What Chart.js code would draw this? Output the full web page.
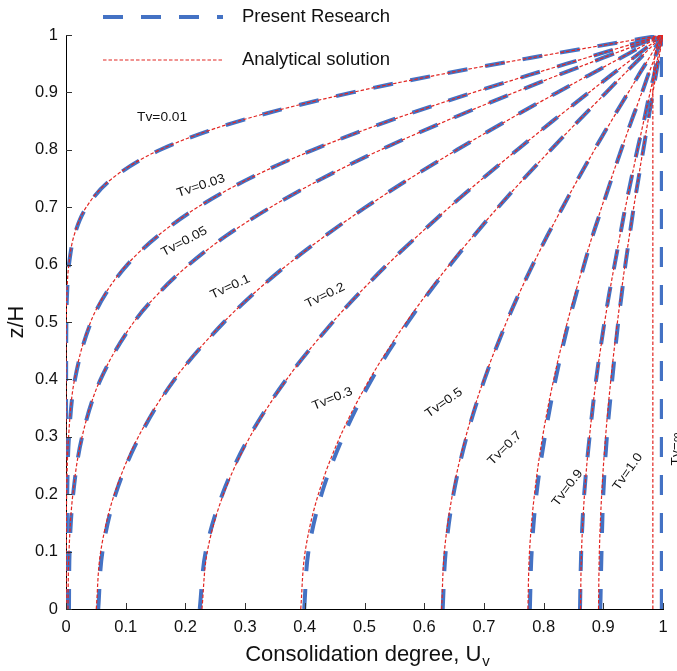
<!DOCTYPE html>
<html>
<head>
<meta charset="utf-8">
<script src="https://cdn.jsdelivr.net/npm/chart.js@4.4.0/dist/chart.umd.min.js"></script>
<style>
  html, body { margin: 0; padding: 0; background: #fff; }
</style>
</head>
<body>
<canvas id="myChart" width="677" height="671"></canvas>
<script>
// Niveles z/H (eje vertical) comunes a todas las curvas
const zH = [0, 0.1, 0.2, 0.3, 0.4, 0.5, 0.55, 0.6, 0.65, 0.7, 0.75, 0.8, 0.85, 0.9, 0.93, 0.96, 0.98, 1];

// Ticks de los ejes
const xTicks = [0, 0.1, 0.2, 0.3, 0.4, 0.5, 0.6, 0.7, 0.8, 0.9, 1];
const yTicks = [0, 0.1, 0.2, 0.3, 0.4, 0.5, 0.6, 0.7, 0.8, 0.9, 1];

// Valores de Tv de cada isocrona
const tvLabels = ["0.01", "0.03", "0.05", "0.1", "0.2", "0.3", "0.5", "0.7", "0.9", "1.0", "∞"];

// Analytical solution (U para cada nivel de zH)
const ana001 = [0, 0, 0, 0, 0, 0.0004, 0.0015, 0.0047, 0.0133, 0.0339, 0.0771, 0.1573, 0.2889, 0.4795, 0.6206, 0.7773, 0.8875, 1];
const ana003 = [0, 0.0002, 0.0011, 0.0043, 0.0143, 0.0412, 0.0661, 0.1022, 0.1535, 0.2207, 0.3073, 0.4145, 0.5403, 0.6829, 0.7752, 0.8708, 0.935, 1];
const ana005 = [0.0032, 0.005, 0.0115, 0.0269, 0.0576, 0.1137, 0.1551, 0.2062, 0.2683, 0.3429, 0.4294, 0.5273, 0.6358, 0.7516, 0.8243, 0.899, 0.9496, 1];
const ana01 = [0.0507, 0.0581, 0.081, 0.1212, 0.1815, 0.2644, 0.3148, 0.3714, 0.4341, 0.5025, 0.5762, 0.6548, 0.7373, 0.8231, 0.8756, 0.9287, 0.9643, 1];
const ana02 = [0.2277, 0.2367, 0.2637, 0.3082, 0.3696, 0.4468, 0.4909, 0.5384, 0.5889, 0.6422, 0.6979, 0.7558, 0.8153, 0.8761, 0.9131, 0.9503, 0.9751, 1];
const ana03 = [0.3932, 0.4006, 0.4227, 0.459, 0.5085, 0.5702, 0.6051, 0.6425, 0.6821, 0.7237, 0.7671, 0.8119, 0.8579, 0.9048, 0.9332, 0.9618, 0.9809, 1];
const ana05 = [0.6292, 0.6338, 0.6474, 0.6696, 0.7, 0.7378, 0.7592, 0.7821, 0.8063, 0.8317, 0.8581, 0.8854, 0.9134, 0.942, 0.9593, 0.9767, 0.9884, 1];
const ana07 = [0.7737, 0.7764, 0.7847, 0.7983, 0.8169, 0.8399, 0.853, 0.867, 0.8817, 0.8972, 0.9134, 0.9301, 0.9472, 0.9646, 0.9752, 0.9858, 0.9929, 1];
const ana09 = [0.8618, 0.8635, 0.8685, 0.8768, 0.8882, 0.9023, 0.9102, 0.9188, 0.9278, 0.9372, 0.9471, 0.9573, 0.9677, 0.9784, 0.9848, 0.9913, 0.9957, 1];
const ana10 = [0.892, 0.8934, 0.8973, 0.9038, 0.9127, 0.9237, 0.9299, 0.9365, 0.9436, 0.951, 0.9587, 0.9666, 0.9748, 0.9831, 0.9882, 0.9932, 0.9966, 1];
const anaInf = [0.983, 0.983, 0.983, 0.983, 0.983, 0.983, 0.983, 0.983, 0.983, 0.983, 0.983, 0.983, 0.983, 0.983, 0.984, 0.986, 0.99, 1];

// Present Research
const pres001 = [0, 0, 0, 0, 0.0002, 0.0006, 0.0018, 0.005, 0.0138, 0.0345, 0.078, 0.158, 0.29, 0.48, 0.62, 0.777, 0.887, 1];
const pres003 = [0.001, 0.0012, 0.002, 0.005, 0.015, 0.042, 0.067, 0.103, 0.154, 0.221, 0.307, 0.414, 0.54, 0.683, 0.775, 0.871, 0.935, 1];
const pres005 = [0.005, 0.006, 0.012, 0.027, 0.058, 0.114, 0.155, 0.206, 0.268, 0.343, 0.429, 0.527, 0.636, 0.752, 0.824, 0.899, 0.95, 1];
const pres01 = [0.054, 0.061, 0.083, 0.123, 0.182, 0.265, 0.315, 0.371, 0.434, 0.502, 0.576, 0.655, 0.737, 0.823, 0.876, 0.929, 0.964, 1];
const pres02 = [0.224, 0.234, 0.262, 0.307, 0.369, 0.447, 0.491, 0.538, 0.589, 0.642, 0.698, 0.756, 0.815, 0.876, 0.913, 0.95, 0.975, 1];
const pres03 = [0.399, 0.406, 0.428, 0.464, 0.512, 0.573, 0.607, 0.644, 0.683, 0.724, 0.767, 0.812, 0.858, 0.905, 0.933, 0.962, 0.981, 1];
const pres05 = [0.631, 0.636, 0.649, 0.671, 0.701, 0.738, 0.759, 0.782, 0.806, 0.832, 0.858, 0.885, 0.913, 0.942, 0.959, 0.977, 0.988, 1];
const pres07 = [0.777, 0.78, 0.788, 0.802, 0.82, 0.842, 0.855, 0.868, 0.882, 0.898, 0.914, 0.93, 0.947, 0.965, 0.975, 0.986, 0.993, 1];
const pres09 = [0.861, 0.863, 0.868, 0.877, 0.888, 0.902, 0.91, 0.919, 0.928, 0.937, 0.947, 0.957, 0.968, 0.978, 0.985, 0.991, 0.996, 1];
const pres10 = [0.895, 0.897, 0.9, 0.906, 0.915, 0.925, 0.931, 0.937, 0.944, 0.951, 0.959, 0.967, 0.975, 0.983, 0.988, 0.993, 0.997, 1];
const presInf = [0.998, 0.998, 0.998, 0.998, 0.998, 0.998, 0.998, 0.998, 0.998, 0.998, 0.998, 0.998, 0.998, 0.998, 0.998, 0.998, 0.999, 1];

const anaCurves = [ana001, ana003, ana005, ana01, ana02, ana03, ana05, ana07, ana09, ana10, anaInf];
const presCurves = [pres001, pres003, pres005, pres01, pres02, pres03, pres05, pres07, pres09, pres10, presInf];

// Posicion (U, z/H) y angulo de cada etiqueta Tv
const lblPos = [
  [0.161, 0.857, 0], [0.226, 0.737, -18], [0.198, 0.64, -28], [0.275, 0.561, -25],
  [0.434, 0.546, -26], [0.446, 0.366, -22], [0.633, 0.359, -35], [0.735, 0.28, -45],
  [0.84, 0.211, -53], [0.941, 0.239, -55], [1.0235, 0.279, -90],
];

const blue = "rgb(68, 114, 196)";
const red = "rgb(226, 38, 34)";
const txtColor = "#111";
const fam = "'Liberation Sans', Arial, Helvetica, sans-serif";

const toPts = (arr) => zH.map((z, i) => ({ x: arr[i], y: z }));

const datasets = [];
anaCurves.forEach((arr, i) => {
  datasets.push({
    label: "Analytical solution Tv=" + tvLabels[i],
    data: toPts(arr),
    borderColor: red,
    borderWidth: 1.2,
    borderDash: [3.5, 2],
    order: 0, // encima de las curvas azules
  });
});
presCurves.forEach((arr, i) => {
  datasets.push({
    label: "Present Research Tv=" + tvLabels[i],
    data: toPts(arr),
    borderColor: blue,
    borderWidth: 4,
    borderDash: [20, 18],
    order: 1,
  });
});

// Plugin para ticks hacia adentro, leyenda, etiquetas y titulos
const extras = {
  id: "extras",
  afterDraw(chart) {
    const ctx = chart.ctx;
    const xs = chart.scales.x;
    const ys = chart.scales.y;
    const a = chart.chartArea;
    ctx.save();

    // ticks
    ctx.strokeStyle = "#333";
    ctx.lineWidth = 1;
    ctx.setLineDash([]);
    ctx.beginPath();
    xTicks.forEach((v) => {
      const px = Math.round(xs.getPixelForValue(v)) + 0.5;
      ctx.moveTo(px, a.bottom);
      ctx.lineTo(px, a.bottom - 6);
    });
    yTicks.forEach((v) => {
      const py = Math.round(ys.getPixelForValue(v)) + 0.5;
      ctx.moveTo(a.left, py);
      ctx.lineTo(a.left + 6, py);
    });
    ctx.stroke();

    // leyenda
    ctx.lineCap = "butt";
    ctx.strokeStyle = blue;
    ctx.lineWidth = 4;
    ctx.setLineDash([20, 18]);
    ctx.beginPath();
    ctx.moveTo(103, 17);
    ctx.lineTo(223, 17);
    ctx.stroke();
    ctx.strokeStyle = red;
    ctx.lineWidth = 1.2;
    ctx.setLineDash([3.5, 2]);
    ctx.beginPath();
    ctx.moveTo(103, 60);
    ctx.lineTo(223, 60);
    ctx.stroke();
    ctx.setLineDash([]);

    ctx.fillStyle = txtColor;
    ctx.font = "18.5px " + fam;
    ctx.textAlign = "left";
    ctx.textBaseline = "middle";
    ctx.fillText("Present Research", 242, 17);
    ctx.fillText("Analytical solution", 242, 60);

    // etiquetas Tv
    ctx.font = "12.5px " + fam;
    lblPos.forEach((p, i) => {
      const t = "Tv=" + tvLabels[i];
      ctx.save();
      ctx.translate(xs.getPixelForValue(p[0]), ys.getPixelForValue(p[1]));
      ctx.rotate((p[2] * Math.PI) / 180);
      ctx.scale(1.1, 1);
      const w = ctx.measureText(t).width;
      ctx.fillText(t, -w / 2, 0);
      ctx.restore();
    });

    // titulo eje x con subindice
    ctx.font = "22px " + fam;
    const main = "Consolidation degree, U";
    const wMain = ctx.measureText(main).width;
    ctx.font = "15px " + fam;
    const wSub = ctx.measureText("v").width;
    const x0 = 367 - (wMain + wSub) / 2;
    ctx.font = "22px " + fam;
    ctx.fillText(main, x0, 655);
    ctx.font = "15px " + fam;
    ctx.fillText("v", x0 + wMain + 1, 662);

    // titulo eje y
    ctx.save();
    ctx.translate(17, 322);
    ctx.rotate(-Math.PI / 2);
    ctx.font = "22px " + fam;
    ctx.textAlign = "center";
    ctx.fillText("z/H", 0, 0);
    ctx.restore();

    ctx.restore();
  },
};

const ctx = document.getElementById("myChart").getContext("2d");
const myChart = new Chart(ctx, {
  type: "line",
  data: { datasets: datasets },
  plugins: [extras],
  options: {
    responsive: false,
    animation: false,
    indexAxis: "y", // interpolar U en funcion de z/H
    layout: { padding: { left: 0, right: 14, top: 35, bottom: 0 } },
    elements: {
      point: { radius: 0 },
      line: { cubicInterpolationMode: "monotone", fill: false },
    },
    plugins: {
      legend: { display: false },
      tooltip: { enabled: false },
    },
    scales: {
      x: {
        type: "linear",
        min: 0,
        max: 1,
        afterBuildTicks: (s) => { s.ticks = xTicks.map((v) => ({ value: v })); },
        afterFit: (s) => { s.height = 62; },
        grid: { display: false, drawTicks: false },
        border: { display: true, color: "#000", width: 1 },
        ticks: {
          color: txtColor,
          font: { family: fam, size: 16.5 },
          padding: 9,
          maxRotation: 0,
          callback: (v) => String(Math.round(v * 10) / 10),
        },
      },
      y: {
        type: "linear",
        min: 0,
        max: 1,
        afterBuildTicks: (s) => { s.ticks = yTicks.map((v) => ({ value: v })); },
        afterFit: (s) => { s.width = 66; },
        grid: { display: false, drawTicks: false },
        border: { display: true, color: "#000", width: 1 },
        ticks: {
          color: txtColor,
          font: { family: fam, size: 16.5 },
          padding: 8,
          callback: (v) => String(Math.round(v * 10) / 10),
        },
      },
    },
  },
});
</script>
</body>
</html>
